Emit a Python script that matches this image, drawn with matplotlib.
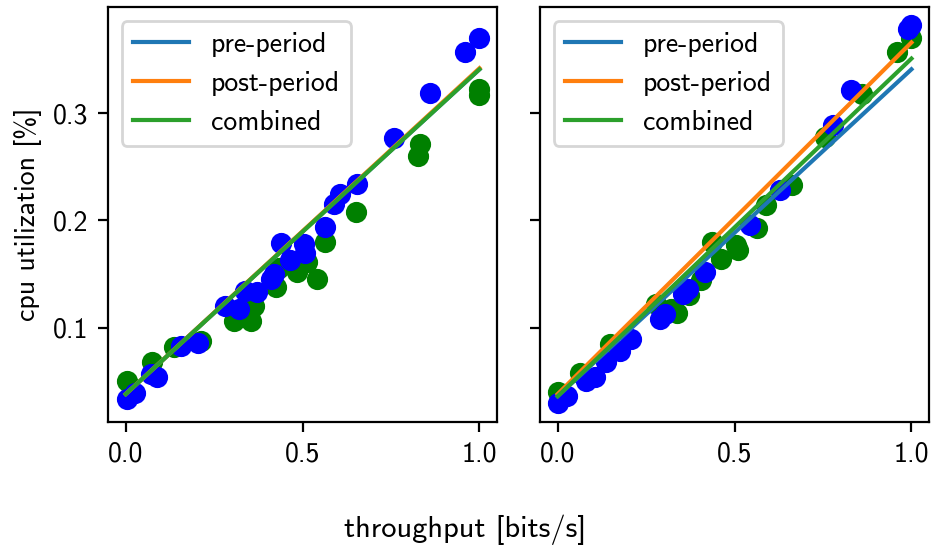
import numpy as np
import matplotlib
matplotlib.use("Agg")
import matplotlib.pyplot as plt

plt.rcParams['font.family'] = ['cmss10', 'DejaVu Sans']
plt.rcParams['axes.unicode_minus'] = False
plt.rcParams['font.size'] = 10

# left panel: measured points
left_pre_x = [0.003, 0.025, 0.071, 0.088, 0.157, 0.204, 0.282, 0.32, 0.336, 0.372, 0.41, 0.419,
              0.44, 0.464, 0.505, 0.508, 0.562, 0.588, 0.605, 0.654, 0.758, 0.86, 0.959, 1.0]
left_pre_y = [0.033, 0.0386, 0.0567, 0.054, 0.083, 0.086, 0.12, 0.117, 0.1346, 0.133, 0.1455, 0.15,
              0.179, 0.163, 0.178, 0.17, 0.194, 0.2156, 0.225, 0.234, 0.277, 0.319, 0.357, 0.37]
left_post_x = [0.003, 0.073, 0.137, 0.212, 0.306, 0.353, 0.362, 0.424, 0.433, 0.485, 0.513,
               0.54, 0.562, 0.65, 0.826, 0.833, 1.0, 1.0]
left_post_y = [0.0498, 0.0676, 0.0822, 0.0878, 0.1065, 0.1065, 0.12, 0.1377, 0.156, 0.152, 0.161,
               0.1455, 0.18, 0.2078, 0.26, 0.271, 0.3168, 0.323]

# right panel: measured points
right_pre_x = [0.0, 0.025, 0.081, 0.105, 0.138, 0.175, 0.208, 0.29, 0.303, 0.354, 0.369, 0.416,
               0.543, 0.628, 0.779, 0.828, 0.991, 1.0]
right_pre_y = [0.03, 0.0364, 0.0505, 0.0536, 0.0676, 0.0785, 0.0894, 0.108, 0.113, 0.1315, 0.136,
               0.152, 0.196, 0.228, 0.289, 0.3215, 0.379, 0.382]
right_post_x = [0.0, 0.062, 0.147, 0.279, 0.32, 0.336, 0.37, 0.406, 0.435, 0.463, 0.505, 0.51,
                0.564, 0.59, 0.661, 0.755, 0.859, 0.958, 1.0]
right_post_y = [0.0395, 0.058, 0.085, 0.122, 0.117, 0.114, 0.13, 0.144, 0.18, 0.164, 0.177, 0.172,
                0.193, 0.214, 0.233, 0.278, 0.318, 0.357, 0.37]

# fitted lines (value at throughput 0 and 1)
line_x = [0.0, 1.0]
left_fits = {'pre-period': [0.038, 0.341], 'post-period': [0.038, 0.342], 'combined': [0.038, 0.341]}
right_fits = {'pre-period': [0.036, 0.341], 'post-period': [0.038, 0.366], 'combined': [0.036, 0.351]}
fit_colors = {'pre-period': 'tab:blue', 'post-period': 'tab:orange', 'combined': 'tab:green'}

fig, axes = plt.subplots(1, 2, sharey=True, figsize=(931 / 200, 548 / 200), dpi=200)
fig.subplots_adjust(left=0.116, right=0.998, bottom=0.23, top=0.987, wspace=0.11)

panels = [
    (axes[0], left_pre_x, left_pre_y, left_post_x, left_post_y, left_fits),
    (axes[1], right_pre_x, right_pre_y, right_post_x, right_post_y, right_fits),
]
for ax, px, py, qx, qy, fits in panels:
    ax.scatter(qx, qy, color='green', s=44)
    ax.scatter(px, py, color='blue', s=44)
    for name, vals in fits.items():
        ax.plot(line_x, vals, color=fit_colors[name], label=name)
    ax.legend(loc='upper left')
    ax.set_xlim(-0.05, 1.05)
    ax.set_xticks([0.0, 0.5, 1.0])

axes[0].set_ylim(0.012, 0.399)
axes[0].set_yticks([0.1, 0.2, 0.3])
axes[0].set_ylabel('cpu utilization [%]')
fig.text(0.5, 0.033, 'throughput [bits/s]', ha='center', va='center', fontsize=11)

fig.savefig('out.png', dpi=200)
